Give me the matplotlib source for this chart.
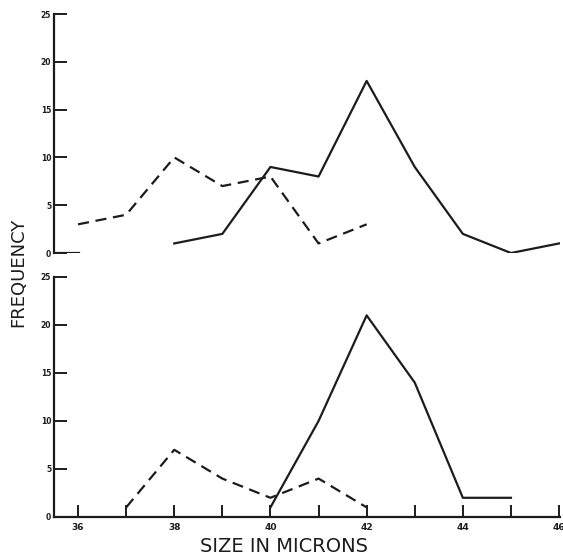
import matplotlib
matplotlib.use('Agg')
import numpy as np
import matplotlib.pyplot as plt
import matplotlib.ticker as ticker

# upper panel
top_dash_x = [36, 37, 38, 39, 40, 41, 42]
top_dash_y = [3, 4, 10, 7, 8, 1, 3]
top_solid_x = [38, 39, 40, 41, 42, 43, 44, 45, 46]
top_solid_y = [1, 2, 9, 8, 18, 9, 2, 0, 1]

# lower panel
bot_dash_x = [37, 38, 39, 40, 41, 42]
bot_dash_y = [1, 7, 4, 2, 4, 1]
bot_solid_x = [40, 41, 42, 43, 44, 45]
bot_solid_y = [1, 10, 21, 14, 2, 2]

x_labels = [36, 38, 40, 42, 44, 46]
y_ticks = [0, 5, 10, 15, 20, 25]

ink = '#1c1c1c'
plt.rcParams.update({
    'font.family': 'DejaVu Sans',
    'text.color': ink,
    'axes.edgecolor': ink,
    'xtick.color': ink,
    'ytick.color': ink,
})

fig = plt.figure(figsize=(5.63, 5.60), dpi=100)
ax_top = fig.add_axes([0.0959, 0.5482, 0.8988, 0.4268])
ax_bot = fig.add_axes([0.0959, 0.0768, 0.8988, 0.4286])

lw = 1.6


def style_axis(ax):
    ax.set_xlim(35.5, 46.02)
    ax.set_ylim(0, 25)
    for s in ['top', 'right']:
        ax.spines[s].set_visible(False)
    ax.spines['left'].set_linewidth(1.6)
    ax.spines['bottom'].set_linewidth(1.6)
    ax.yaxis.set_major_locator(ticker.FixedLocator(y_ticks))
    ax.tick_params(axis='y', direction='in', length=9, width=1.4,
                   labelsize=5.5, pad=2)
    for lab in ax.get_yticklabels():
        lab.set_fontweight('bold')


# top: dashed + solid, no x axis line
ax_top.plot(top_dash_x, top_dash_y, color=ink, lw=lw, dashes=(5, 3))
ax_top.plot(top_solid_x, top_solid_y, color=ink, lw=lw)
style_axis(ax_top)
ax_top.spines['bottom'].set_visible(False)
ax_top.set_xticks([])
ax_top.axhline(0, xmin=0, xmax=0.05, color=ink, lw=1.6)

# bottom: dashed + solid with size axis
ax_bot.plot(bot_dash_x, bot_dash_y, color=ink, lw=lw, dashes=(5, 3))
ax_bot.plot(bot_solid_x, bot_solid_y, color=ink, lw=lw)
style_axis(ax_bot)
ax_bot.xaxis.set_major_locator(ticker.FixedLocator(x_labels))
ax_bot.xaxis.set_minor_locator(ticker.MultipleLocator(1))
ax_bot.tick_params(axis='x', which='both', direction='in', length=9,
                   width=1.4, labelsize=6.5, pad=4)
for lab in ax_bot.get_xticklabels():
    lab.set_fontweight('bold')

fig.text(0.355, 0.008, 'SIZE IN MICRONS', fontsize=14, ha='left', va='bottom')
fig.text(0.032, 0.514, 'FREQUENCY', fontsize=13, rotation=90,
         ha='center', va='center')

fig.savefig('out.png', dpi=100)
